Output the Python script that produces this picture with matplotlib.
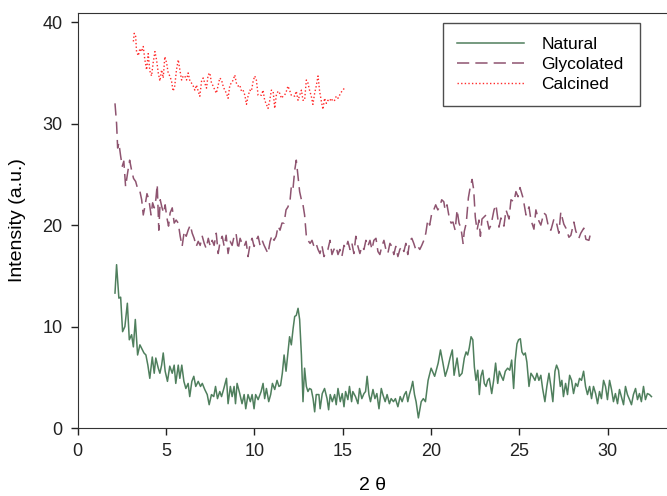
import matplotlib
matplotlib.use("Agg")
import matplotlib.pyplot as plt

plt.rcParams['font.family'] = ['Liberation Sans', 'DejaVu Sans']

# Natural sample
nat_x = [2.11, 2.20, 2.33, 2.43, 2.54, 2.67, 2.81, 2.92, 3.05, 3.15, 3.26, 3.39, 3.52, 3.66, 3.75, 3.86,
         3.97, 4.08, 4.22, 4.33, 4.42, 4.56, 4.65, 4.75, 4.84, 4.95, 5.08, 5.21, 5.35, 5.46, 5.55, 5.69,
         5.78, 5.89, 6.01, 6.12, 6.25, 6.34, 6.46, 6.57, 6.68, 6.82, 6.95, 7.05, 7.19, 7.33, 7.44, 7.57,
         7.70, 7.80, 7.91, 8.04, 8.14, 8.27, 8.42, 8.51, 8.64, 8.74, 8.85, 8.93, 9.02, 9.17, 9.30, 9.42,
         9.51, 9.64, 9.77, 9.87, 9.98, 10.07, 10.21, 10.38, 10.49, 10.58, 10.68, 10.81, 10.92, 11.02, 11.15,
         11.28, 11.39, 11.48, 11.58, 11.68, 11.79, 11.90, 11.99, 12.09, 12.19, 12.28, 12.37, 12.47, 12.56,
         12.66, 12.75, 12.84, 12.94, 13.03, 13.12, 13.22, 13.32, 13.41, 13.50, 13.65, 13.72, 13.84, 13.97,
         14.11, 14.20, 14.29, 14.41, 14.54, 14.63, 14.73, 14.86, 14.97, 15.07, 15.16, 15.29, 15.38, 15.50,
         15.57, 15.72, 15.86, 15.95, 16.08, 16.20, 16.29, 16.38, 16.48, 16.57, 16.71, 16.82, 16.93, 17.05,
         17.18, 17.27, 17.40, 17.51, 17.64, 17.74, 17.87, 17.98, 18.12, 18.25, 18.36, 18.49, 18.59, 18.68,
         18.77, 18.87, 18.96, 19.06, 19.15, 19.28, 19.44, 19.56, 19.68, 19.83, 20.00, 20.20, 20.40, 20.53,
         20.67, 20.80, 20.94, 21.07, 21.20, 21.30, 21.47, 21.60, 21.75, 21.88, 21.98, 22.07, 22.16, 22.26,
         22.36, 22.45, 22.54, 22.64, 22.73, 22.82, 22.92, 23.01, 23.11, 23.20, 23.29, 23.43, 23.54, 23.65,
         23.77, 23.86, 23.95, 24.08, 24.20, 24.33, 24.45, 24.56, 24.67, 24.76, 24.86, 24.95, 25.05, 25.14,
         25.24, 25.33, 25.42, 25.54, 25.65, 25.76, 25.88, 25.99, 26.10, 26.21, 26.31, 26.44, 26.55, 26.67,
         26.78, 26.89, 27.01, 27.10, 27.21, 27.31, 27.40, 27.49, 27.61, 27.72, 27.84, 27.95, 28.06, 28.18,
         28.29, 28.40, 28.51, 28.63, 28.74, 28.85, 28.97, 29.08, 29.19, 29.31, 29.42, 29.53, 29.64, 29.76,
         29.87, 29.98, 30.10, 30.21, 30.32, 30.43, 30.55, 30.66, 30.77, 30.89, 31.00, 31.11, 31.23, 31.34,
         31.45, 31.57, 31.68, 31.79, 31.90, 32.02, 32.13, 32.24, 32.36, 32.47]
nat_y = [13.3, 16.1, 12.8, 12.9, 9.5, 10.0, 12.3, 8.7, 9.2, 8.0, 10.7, 7.2, 8.2, 7.7, 7.4, 7.2,
         6.2, 4.9, 7.0, 5.4, 6.9, 5.9, 5.4, 6.2, 7.4, 5.6, 4.6, 6.1, 5.4, 6.2, 4.4, 6.2,
         4.9, 6.2, 4.6, 3.9, 4.4, 3.1, 4.6, 5.1, 4.1, 4.6, 4.1, 4.4, 3.8, 3.3, 2.3, 3.3,
         3.1, 4.1, 2.9, 3.6, 3.1, 3.9, 4.9, 2.4, 4.1, 3.1, 4.1, 2.4, 4.4, 3.4, 2.4, 3.3,
         1.9, 3.3, 2.6, 3.3, 1.9, 3.3, 2.8, 3.6, 4.4, 2.9, 3.9, 2.6, 3.3, 4.4, 3.8,
         4.7, 4.1, 4.2, 5.4, 7.2, 5.6, 7.5, 9.0, 8.2, 9.8, 11.0, 11.1, 11.8, 10.7,
         7.2, 2.6, 5.9, 4.1, 3.6, 3.9, 3.8, 2.9, 1.6, 3.3, 3.3, 1.9, 3.4, 3.9,
         2.9, 1.8, 3.3, 2.6, 3.3, 2.3, 3.9, 2.6, 3.4, 2.1, 3.6, 2.8, 4.1, 2.6,
         3.6, 3.1, 2.4, 3.9, 2.9, 3.4, 3.6, 5.1, 3.3, 2.6, 3.8, 2.9, 3.4, 1.9,
         3.9, 3.3, 2.6, 3.3, 2.4, 2.9, 2.6, 2.9, 2.1, 3.1, 2.6, 3.3, 3.6, 2.6,
         3.3, 3.9, 4.6, 3.3, 2.6, 1.0, 2.6, 2.9, 2.6, 4.7, 5.9, 5.1, 6.4, 7.7,
         6.4, 5.1, 5.9, 6.9, 7.7, 5.2, 6.9, 5.1, 5.4, 6.9, 7.5, 7.2, 7.9, 9.0,
         8.7, 6.0, 4.7, 5.7, 3.3, 5.1, 5.7, 4.4, 4.1, 4.7, 4.9, 3.4, 4.7, 6.4,
         4.4, 5.6, 5.2, 4.7, 5.6, 5.9, 5.7, 6.7, 3.9, 6.7, 8.3, 8.7, 8.8, 7.5,
         7.2, 7.4, 6.5, 4.1, 5.4, 5.1, 4.7, 5.4, 4.7, 5.2, 3.9, 2.6, 4.1, 5.4,
         4.1, 2.6, 5.6, 6.2, 5.7, 4.1, 4.7, 3.1, 4.4, 3.3, 5.2, 4.7, 3.4, 4.4,
         4.1, 4.9, 4.7, 5.6, 4.1, 3.3, 4.1, 2.9, 4.1, 3.4, 2.4, 3.6, 2.9, 4.7,
         4.1, 2.8, 4.7, 3.8, 2.6, 3.4, 2.4, 3.8, 3.1, 2.3, 4.1, 3.3, 2.8, 2.3,
         3.3, 3.9, 2.8, 3.4, 2.6, 4.1, 2.8, 3.4, 3.3, 3.1]

# Glycolated sample
gly_x = [2.11, 2.20, 2.26, 2.33, 2.43, 2.52, 2.61, 2.71, 2.82, 2.94, 3.05, 3.16, 3.28, 3.39, 3.50, 3.62,
         3.71, 3.80, 3.92, 4.03, 4.15, 4.24, 4.33, 4.42, 4.50, 4.59, 4.67, 4.76, 4.86, 4.95, 5.04, 5.14,
         5.23, 5.35, 5.46, 5.57, 5.69, 5.80, 5.91, 6.03, 6.14, 6.25, 6.37, 6.48, 6.59, 6.71, 6.82, 6.93,
         7.05, 7.16, 7.27, 7.39, 7.50, 7.61, 7.72, 7.84, 7.95, 8.06, 8.18, 8.29, 8.40, 8.51, 8.63, 8.74,
         8.85, 8.96, 9.08, 9.19, 9.30, 9.42, 9.53, 9.64, 9.76, 9.87, 9.98, 10.10, 10.21, 10.32, 10.44, 10.55,
         10.66, 10.77, 10.89, 11.00, 11.11, 11.23, 11.34, 11.45, 11.56, 11.68, 11.79, 11.90, 12.02, 12.09,
         12.18, 12.28, 12.37, 12.47, 12.56, 12.66, 12.75, 12.84, 12.94, 13.03, 13.15, 13.26, 13.37, 13.49,
         13.60, 13.71, 13.82, 13.94, 14.05, 14.16, 14.28, 14.39, 14.50, 14.62, 14.73, 14.84, 14.95, 15.07,
         15.18, 15.29, 15.41, 15.52, 15.63, 15.74, 15.86, 15.97, 16.08, 16.20, 16.31, 16.42, 16.54, 16.65,
         16.76, 16.88, 16.99, 17.10, 17.21, 17.33, 17.44, 17.55, 17.67, 17.78, 17.89, 18.00, 18.12, 18.23,
         18.34, 18.46, 18.57, 18.68, 18.80, 18.91, 19.02, 19.13, 19.25, 19.36, 19.47, 19.59, 19.70, 19.81,
         19.92, 20.04, 20.15, 20.26, 20.38, 20.49, 20.60, 20.72, 20.79, 20.90, 21.02, 21.13, 21.24, 21.36,
         21.47, 21.58, 21.69, 21.81, 21.88, 21.99, 22.11, 22.22, 22.32, 22.41, 22.50, 22.60, 22.71, 22.79,
         22.88, 23.11, 23.28, 23.39, 23.56, 23.67, 23.84, 23.95, 24.12, 24.24, 24.41, 24.52, 24.69, 24.80,
         24.92, 25.03, 25.20, 25.37, 25.54, 25.65, 25.82, 25.93, 26.10, 26.21, 26.38, 26.50, 26.67, 26.78,
         26.95, 27.06, 27.23, 27.34, 27.51, 27.63, 27.80, 27.91, 28.08, 28.19, 28.36, 28.47, 28.64, 28.76,
         28.93, 29.04]
gly_y = [32.0, 30.0, 27.6, 28.1, 26.8, 25.8, 26.3, 23.8, 25.1, 26.4, 25.4, 24.6, 24.3, 23.6, 23.5, 22.5,
         21.0, 21.8, 23.1, 22.5, 21.0, 22.2, 21.7, 22.5, 24.0, 19.5, 22.5, 21.8, 21.2, 22.0, 20.8, 19.9,
         21.2, 21.7, 20.2, 20.5, 20.2, 18.9, 17.9, 19.4, 18.9, 19.5, 20.0, 19.2, 18.7, 17.9, 18.4, 18.0,
         18.9, 18.2, 17.7, 18.7, 17.9, 18.5, 18.0, 19.2, 17.2, 18.4, 18.9, 17.9, 19.0, 17.2, 18.4, 18.0,
         18.9, 19.2, 17.6, 18.7, 18.2, 17.9, 18.4, 16.9, 18.2, 18.7, 17.9, 18.5, 18.9, 18.0, 18.5, 18.0,
         17.6, 17.2, 18.4, 19.0, 18.5, 18.9, 19.9, 19.5, 20.2, 20.2, 21.5, 21.8, 22.5, 23.8,
         23.5, 25.4, 26.4, 24.8, 23.3, 22.5, 22.0, 21.0, 18.9, 18.5, 18.2, 18.5, 17.9, 18.2,
         17.6, 17.2, 18.0, 16.9, 17.4, 17.6, 18.5, 17.1, 17.6, 17.9, 17.1, 17.6, 16.9, 18.0,
         17.7, 18.4, 17.6, 18.2, 17.2, 18.9, 17.9, 17.2, 17.9, 17.6, 18.5, 17.9, 18.5, 17.6,
         18.5, 18.7, 17.4, 17.1, 17.9, 18.5, 17.6, 17.2, 18.2, 17.9, 17.1, 17.9, 16.9, 17.6,
         17.9, 17.4, 18.2, 17.1, 18.5, 18.7, 18.2, 17.6, 17.9, 17.6, 18.0, 18.5, 19.2, 20.5,
         20.0, 21.2, 21.5, 22.0, 21.5, 21.8, 22.5, 22.3, 21.5, 22.0, 20.8, 20.2, 20.3, 19.5,
         21.5, 20.2, 19.7, 18.2, 19.4, 20.2, 22.7, 23.8, 24.5, 23.5, 20.8, 19.5, 20.5, 18.9,
         20.6, 21.0, 19.6, 20.0, 21.5, 22.0, 19.8, 20.7, 19.9, 21.5, 20.6, 22.5, 22.3, 23.3,
         22.8, 23.7, 22.7, 21.0, 21.8, 20.5, 19.6, 21.5, 20.4, 20.0, 21.2, 21.0, 19.6, 19.5,
         20.6, 20.5, 19.2, 21.3, 20.1, 19.7, 18.8, 19.0, 20.3, 19.4, 18.7, 19.2, 19.7, 18.6,
         18.5, 19.3]

# Calcined sample
cal_x = [3.15, 3.20, 3.28, 3.33, 3.43, 3.52, 3.62, 3.71, 3.80, 3.90, 3.99, 4.08, 4.18, 4.27, 4.37, 4.46,
         4.56, 4.65, 4.75, 4.84, 4.93, 5.03, 5.12, 5.21, 5.31, 5.40, 5.49, 5.59, 5.69, 5.78, 5.88, 5.97,
         6.06, 6.16, 6.25, 6.35, 6.44, 6.54, 6.63, 6.72, 6.82, 6.91, 7.01, 7.10, 7.19, 7.29, 7.38, 7.48,
         7.57, 7.67, 7.76, 7.85, 7.95, 8.04, 8.14, 8.23, 8.32, 8.42, 8.51, 8.61, 8.70, 8.80, 8.89, 8.98,
         9.08, 9.17, 9.27, 9.36, 9.46, 9.55, 9.64, 9.74, 9.83, 9.93, 10.02, 10.11, 10.21, 10.30, 10.40, 10.49,
         10.58, 10.68, 10.77, 10.87, 10.96, 11.06, 11.15, 11.24, 11.34, 11.43, 11.53, 11.62, 11.71, 11.81,
         11.90, 11.99, 12.09, 12.18, 12.28, 12.37, 12.47, 12.56, 12.66, 12.75, 12.84, 12.94, 13.03, 13.12,
         13.22, 13.31, 13.41, 13.50, 13.60, 13.69, 13.79, 13.88, 13.97, 14.07, 14.16, 14.25, 14.35, 14.44,
         14.54, 14.63, 14.73, 14.82, 14.95, 15.10]
cal_y = [38.1, 38.9, 38.6, 37.1, 36.7, 37.4, 37.1, 37.6, 36.3, 35.3, 36.9, 35.2, 34.7, 36.0, 37.1, 36.3,
         35.0, 34.2, 35.3, 34.5, 36.6, 36.0, 35.0, 34.7, 34.2, 33.2, 33.7, 35.3, 36.3, 35.3, 34.3, 34.7,
         34.7, 34.3, 35.0, 34.2, 34.0, 33.7, 33.3, 33.8, 33.2, 32.7, 34.2, 34.5, 34.0, 33.5, 34.8, 35.0,
         34.0, 33.7, 33.3, 33.0, 33.8, 34.5, 34.3, 33.7, 33.3, 33.0, 32.5, 33.8, 34.0, 34.3, 34.8, 34.0,
         33.7, 33.8, 33.2, 33.3, 32.8, 31.9, 32.7, 33.3, 33.2, 34.2, 34.7, 34.3, 32.8, 32.8, 32.8, 33.3,
         32.3, 31.9, 31.5, 32.3, 33.3, 33.2, 31.5, 32.8, 33.2, 33.0, 32.5, 32.7, 32.8, 33.2,
         33.7, 33.3, 32.8, 32.8, 32.7, 33.2, 32.3, 32.8, 33.3, 32.3, 32.3, 34.3, 34.0, 33.3,
         32.7, 31.9, 33.0, 33.7, 34.7, 33.2, 32.2, 31.4, 32.5, 32.0, 32.3, 32.2, 32.5, 32.2,
         32.3, 32.7, 32.5, 32.8, 33.2, 33.5]

fig = plt.figure(figsize=(6.67, 4.96), dpi=100)
ax = fig.add_axes([0.1165, 0.137, 0.8835, 0.8367])

ax.plot(nat_x, nat_y, color='#4f7f5d', linewidth=1.1, label='Natural')
ax.plot(gly_x, gly_y, color='#8e5470', linewidth=1.1, dashes=(8, 4), label='Glycolated')
ax.plot(cal_x, cal_y, color='#ff2a2a', linewidth=1.0, dashes=(1, 1.6), label='Calcined')

ax.set_xlim(0, 33.35)
ax.set_ylim(0, 40.9)
ax.set_xticks([0, 5, 10, 15, 20, 25, 30])
ax.set_yticks([0, 10, 20, 30, 40])
ax.tick_params(direction='out', length=5, width=1, labelsize=13, colors='#222222', pad=6)
ax.spines['right'].set_visible(False)
for s in ['left', 'bottom', 'top']:
    ax.spines[s].set_color('#333333')

ax.set_xlabel('2 \u03b8', fontsize=14, labelpad=12)
ax.set_ylabel('Intensity (a.u.)', fontsize=14, labelpad=12)

leg = ax.legend(loc='upper left', bbox_to_anchor=(0.62, 0.976, 0.334, 0), mode='expand',
                borderaxespad=0, fontsize=12.5, fancybox=False, handlelength=3.85,
                handletextpad=1.0, labelspacing=0.27, borderpad=0.82)
leg.get_frame().set_edgecolor('#222222')
leg.get_frame().set_linewidth(1.0)

plt.savefig('out.png', dpi=100)
